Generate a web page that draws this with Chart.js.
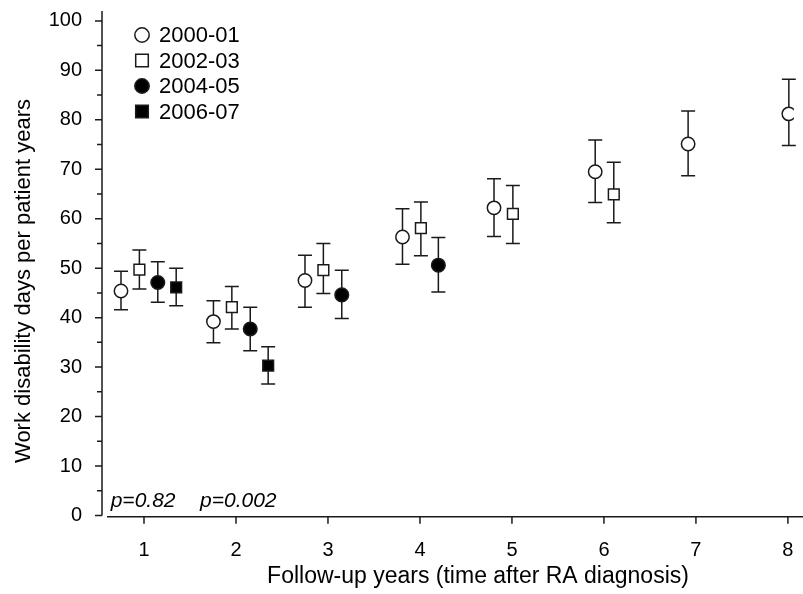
<!DOCTYPE html>
<html>
<head>
<meta charset="utf-8">
<script src="https://cdn.jsdelivr.net/npm/chart.js@4.4.1/dist/chart.umd.min.js"></script>
<style>
  html, body { margin: 0; padding: 0; background: #fff; }
</style>
</head>
<body>
<canvas id="chart" width="803" height="594"></canvas>
<script>
// Cohort labels and point style per cohort
const cohorts = ["2000-01", "2002-03", "2004-05", "2006-07"];

// x = follow-up year (jittered per cohort), y = mean, lo/hi = 95% CI
const x2000 = [0.75, 1.755, 2.75, 3.81, 4.805, 5.905, 6.915, 8.01];
const y2000 = [45.4, 39.2, 47.5, 56.3, 62.2, 69.5, 75.1, 81.2];
const lo2000 = [41.6, 34.9, 42.1, 50.8, 56.4, 63.3, 68.7, 74.8];
const hi2000 = [49.4, 43.4, 52.6, 62.0, 68.1, 75.9, 81.8, 88.2];

const x2002 = [0.95, 1.955, 2.95, 4.01, 5.01, 6.107];
const y2002 = [49.7, 42.1, 49.6, 58.1, 61.0, 64.9];
const lo2002 = [45.8, 37.7, 44.9, 52.5, 55.0, 59.2];
const hi2002 = [53.7, 46.3, 55.0, 63.4, 66.7, 71.4];

const x2004 = [1.15, 2.155, 3.15, 4.2];
const y2004 = [47.1, 37.7, 44.6, 50.6];
const lo2004 = [43.1, 33.3, 39.8, 45.2];
const hi2004 = [51.3, 42.1, 49.6, 56.2];

const x2006 = [1.35, 2.35];
const y2006 = [46.1, 30.3];
const lo2006 = [42.4, 26.6];
const hi2006 = [50.0, 34.1];

const xTicks = [1, 2, 3, 4, 5, 6, 7, 8];
const yTicks = [0, 10, 20, 30, 40, 50, 60, 70, 80, 90, 100];
const yMinorTicks = [5, 15, 25, 35, 45, 55, 65, 75, 85, 95];

// p-value notes, anchored at (x, y) in data units
const pTexts = ["p=0.82", "p=0.002"];
const pAnchorX = [0.638, 1.609];
const pAnchorY = [2.8, 2.8];

const xTitle = "Follow-up years (time after RA diagnosis)";
const yTitle = "Work disability days per patient years";

const FONT = "'Liberation Sans', Arial, sans-serif";
const INK = "#1a1a1a";

function makeSet(label, xs, ys, los, his, style, filled, radius) {
  return {
    label: label,
    data: xs.map((x, i) => ({ x: x, y: ys[i], lo: los[i], hi: his[i] })),
    pointStyle: style,
    pointRadius: radius,
    pointHoverRadius: radius,
    pointBorderWidth: 1.5,
    borderColor: INK,
    backgroundColor: filled ? "#000" : "#fff",
    showLine: false,
  };
}

const datasets = [
  makeSet(cohorts[0], x2000, y2000, lo2000, hi2000, "circle", false, 6.7),
  makeSet(cohorts[1], x2002, y2002, lo2002, hi2002, "rect", false, 7.6),
  makeSet(cohorts[2], x2004, y2004, lo2004, hi2004, "circle", true, 6.8),
  makeSet(cohorts[3], x2006, y2006, lo2006, hi2006, "rect", true, 7.6),
];

// Error bars behind the markers
const errorBars = {
  id: "errorBars",
  beforeDatasetsDraw(chart) {
    const { ctx, scales: { x, y } } = chart;
    ctx.save();
    ctx.strokeStyle = INK;
    ctx.lineWidth = 1.5;
    chart.data.datasets.forEach((ds) => {
      ds.data.forEach((d) => {
        const px = x.getPixelForValue(d.x);
        const pLo = y.getPixelForValue(d.lo);
        const pHi = y.getPixelForValue(d.hi);
        ctx.beginPath();
        ctx.moveTo(px, pLo);
        ctx.lineTo(px, pHi);
        ctx.moveTo(px - 7, pLo);
        ctx.lineTo(px + 7, pLo);
        ctx.moveTo(px - 7, pHi);
        ctx.lineTo(px + 7, pHi);
        ctx.stroke();
      });
    });
    ctx.restore();
  },
};

// Detached axes, tick marks, titles, legend and p-values
const decorations = {
  id: "decorations",
  afterDraw(chart) {
    const { ctx, chartArea: a, scales: { x, y } } = chart;
    ctx.save();
    ctx.strokeStyle = INK;
    ctx.lineWidth = 1.5;

    // y axis
    const yAxisX = a.left;
    const y0 = y.getPixelForValue(0);
    ctx.beginPath();
    ctx.moveTo(yAxisX, a.top);
    ctx.lineTo(yAxisX, y0);
    yTicks.forEach((v) => {
      const py = y.getPixelForValue(v);
      ctx.moveTo(yAxisX - 7, py);
      ctx.lineTo(yAxisX, py);
    });
    yMinorTicks.forEach((v) => {
      const py = y.getPixelForValue(v);
      ctx.moveTo(yAxisX - 5, py);
      ctx.lineTo(yAxisX, py);
    });
    ctx.stroke();

    // x axis, running to the right edge
    const xAxisY = a.bottom;
    ctx.beginPath();
    ctx.moveTo(a.left + 5, xAxisY);
    ctx.lineTo(chart.width, xAxisY);
    xTicks.forEach((v) => {
      const px = x.getPixelForValue(v);
      ctx.moveTo(px, xAxisY);
      ctx.lineTo(px, xAxisY + 7);
    });
    ctx.stroke();

    // axis titles
    ctx.fillStyle = "#000";
    ctx.font = "23px " + FONT;
    ctx.textAlign = "center";
    ctx.textBaseline = "middle";
    ctx.fillText(xTitle, 478, 577);
    ctx.font = "22px " + FONT;
    ctx.save();
    ctx.translate(24, 281);
    ctx.rotate(-Math.PI / 2);
    ctx.fillText(yTitle, 0, 0);
    ctx.restore();

    // p-values
    ctx.font = "italic 21px " + FONT;
    ctx.textAlign = "left";
    pTexts.forEach((t, i) => {
      ctx.fillText(t, x.getPixelForValue(pAnchorX[i]), y.getPixelForValue(pAnchorY[i]));
    });

    // legend
    ctx.font = "22px " + FONT;
    chart.data.datasets.forEach((ds, i) => {
      const cy = a.top + 24 + i * 25.5;
      const cx = a.left + 40;
      ctx.fillStyle = ds.backgroundColor;
      ctx.strokeStyle = INK;
      ctx.lineWidth = 1.5;
      ctx.beginPath();
      if (ds.pointStyle === "circle") {
        ctx.arc(cx, cy, 7.2, 0, Math.PI * 2);
      } else {
        ctx.rect(cx - 6.3, cy - 6.3, 12.6, 12.6);
      }
      ctx.fill();
      ctx.stroke();
      ctx.fillStyle = "#000";
      ctx.fillText(ds.label, a.left + 57, cy + 1);
    });
    ctx.restore();
  },
};

new Chart(document.getElementById("chart"), {
  type: "scatter",
  data: { datasets: datasets },
  plugins: [errorBars, decorations],
  options: {
    responsive: false,
    animation: false,
    devicePixelRatio: 1,
    layout: { padding: { top: 11, right: 0, left: 0, bottom: 0 } },
    plugins: {
      legend: { display: false },
      tooltip: { enabled: false },
    },
    scales: {
      x: {
        type: "linear",
        min: 0.5435,
        max: 8.065,
        afterBuildTicks: (scale) => { scale.ticks = xTicks.map((v) => ({ value: v })); },
        afterFit: (scale) => {
          scale.height = 77.3;
          scale.paddingLeft = 0;
          scale.paddingRight = 0;
        },
        grid: { display: false, drawTicks: false },
        border: { display: false },
        ticks: {
          color: "#000",
          padding: 22,
          maxRotation: 0,
          font: { family: FONT, size: 20 },
        },
      },
      y: {
        type: "linear",
        min: -0.25,
        max: 102,
        afterBuildTicks: (scale) => { scale.ticks = yTicks.map((v) => ({ value: v })); },
        afterFit: (scale) => {
          scale.width = 102;
          scale.paddingTop = 0;
          scale.paddingBottom = 0;
        },
        grid: { display: false, drawTicks: false },
        border: { display: false },
        ticks: {
          color: "#000",
          padding: 20,
          font: { family: FONT, size: 20 },
        },
      },
    },
  },
});
</script>
</body>
</html>
